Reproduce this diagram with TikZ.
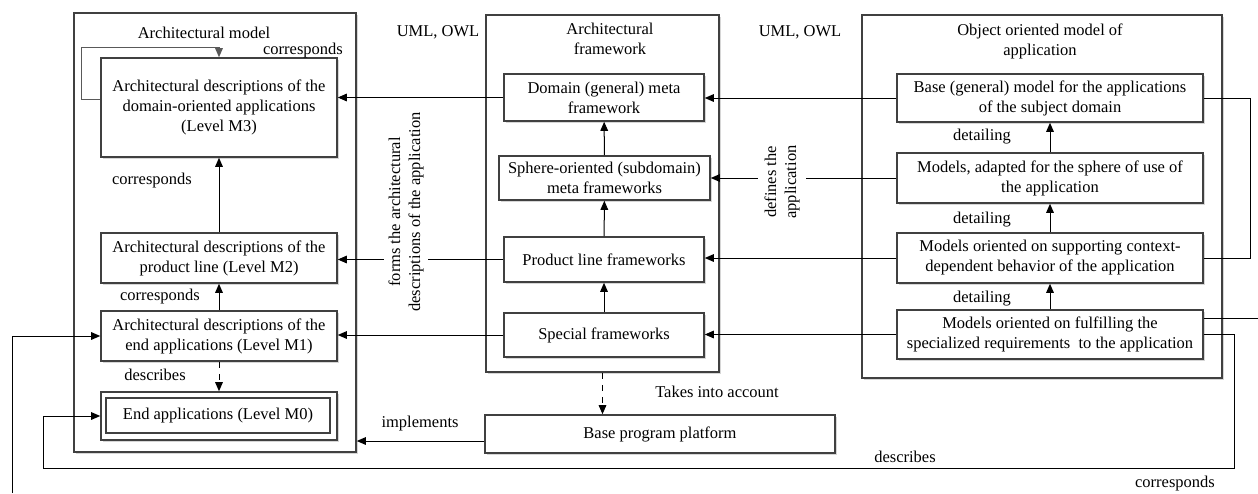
\documentclass[tikz,border=0pt]{standalone}
\usepackage{fontspec}
\setmainfont{Liberation Serif}
\usetikzlibrary{arrows.meta,shadows}

\tikzset{
  boxsize/.style 2 args={minimum width=#1*0.5pt, minimum height=#2*0.5pt},
  box/.style={draw=black!75, line width=0.8pt, fill=white, align=center, inner sep=0pt,
    drop shadow={shadow xshift=1pt, shadow yshift=-1pt, fill=black!20, opacity=0.8}},
  frame/.style={box},
  lbl/.style={align=center, inner sep=1pt},
  arr/.style={-{Triangle[length=4.5pt,width=3.8pt]}},
  link/.style={line width=0.5pt, black}
}

\begin{document}
\begin{tikzpicture}[x=0.5pt, y=-0.5pt, font=\fontsize{8.25}{10}\selectfont]
  \useasboundingbox (0,0) rectangle (1258,493);

  % Outer frames
  \node[frame, boxsize={282}{439}] (modelL) at (215,232.5) {};
  \node[frame, boxsize={233}{357}] (frameM) at (602.5,193.5) {};
  \node[frame, boxsize={360}{363}] (objR) at (1042,196.5) {};

  % Architectural model
  \node[lbl] (titleL) at (204,33) {Architectural model};
  \node[box, boxsize={236}{99}] (M3) at (219,107.5) {Architectural descriptions of the\\domain-oriented applications\\(Level M3)};
  \node[box, boxsize={236}{50}] (M2) at (219,258) {Architectural descriptions of the\\product line (Level M2)};
  \node[box, boxsize={236}{50}] (M1) at (219,336) {Architectural descriptions of the\\end applications (Level M1)};
  \node[box, boxsize={236}{48}] (M0) at (219,416) {};
  \node[draw=black!75, line width=0.8pt, boxsize={224}{35}, inner sep=0pt] (M0in) at (218,415.5) {End applications (Level M0)};

  % Architectural framework
  \node[lbl] (titleM) at (610,39) {Architectural\\framework};
  \node[box, boxsize={200}{47}] (domain) at (604,97.5) {Domain (general) meta\\framework};
  \node[box, boxsize={211}{44}] (sphere) at (604.5,178) {Sphere-oriented (subdomain)\\meta frameworks};
  \node[box, boxsize={200}{45}] (product) at (604,259.5) {Product line frameworks};
  \node[box, boxsize={200}{44}] (special) at (604,335) {Special frameworks};
  \node[box, boxsize={350}{38}] (platform) at (660,434) {Base program platform};

  % Object oriented model
  \node[lbl] (titleR) at (1040,41) {Object oriented model of\\application};
  \node[box, boxsize={306}{48}] (base) at (1050,98) {Base (general) model for the applications\\of the subject domain};
  \node[box, boxsize={306}{50}] (adapted) at (1050,178) {Models, adapted for the sphere of use of\\the application};
  \node[box, boxsize={306}{50}] (context) at (1050,258) {Models oriented on supporting context-\\dependent behavior of the application};
  \node[box, boxsize={306}{49}] (fulfil) at (1050,334.5) {Models oriented on fulfilling the\\specialized requirements\ \ to the application};

  % Vertical links
  \draw[link, arr] (M2) -- (M3);
  \draw[link, arr] (M1) -- (M2);
  \draw[link, arr, dashed] (M1) -- (M0);
  \draw[link, arr] (sphere) -- (domain);
  \draw[link, arr] (product) -- (sphere);
  \draw[link, arr] (special) -- (product);
  \draw[link, arr] (adapted) -- (base);
  \draw[link, arr] (context) -- (adapted);
  \draw[link, arr] (fulfil) -- (context);
  \draw[link, arr, dashed] (frameM.south) -- (frameM.south |- platform.north);
  \draw[link, arr, black!65] ([yshift=4pt]M3.west) -| (81,47) -| (M3.north);

  % Horizontal links
  \coordinate (implFrom) at ([yshift=-3.5pt]platform.west);
  \draw[link, arr] (domain.west) -- (M3.east |- domain.west);
  \draw[link, arr] (product.west) -- (M2.east |- product.west);
  \draw[link, arr] (special.west) -- (M1.east |- special.west);
  \draw[link, arr] (base.west) -- (domain.east |- base.west);
  \draw[link, arr] (adapted.west) -- (sphere.east);
  \draw[link, arr] (context.west) -- (product.east |- context.west);
  \draw[link, arr] (fulfil.west) -- (special.east |- fulfil.west);
  \draw[link, arr] (implFrom) -- (modelL.east |- implFrom);

  % Outer links
  \coordinate (corrOut) at (1258,318);
  \coordinate (corrIn) at (12,493);
  \draw[link] (base.east) -| (1250,258) -- (context.east);
  \draw[link] ([yshift=8.25pt]fulfil.east) -- (corrOut);
  \draw[link, arr] (corrIn) |- (M1.west);
  \draw[link, arr] (fulfil.east) -| (1234,468) -| (43,416) -- (M0.west);

  % Labels
  \node[lbl] (corrTop) at (303,51) {corresponds};
  \node[lbl] (corr32) at (152,181) {corresponds};
  \node[lbl] (corr21) at (160,297) {corresponds};
  \node[lbl] (descr10) at (155,375) {describes};
  \node[lbl] (umlL) at (438,32) {UML, OWL};
  \node[lbl] (umlR) at (800,32) {UML, OWL};
  \node[lbl] (det1) at (982,137) {detailing};
  \node[lbl] (det2) at (982,220) {detailing};
  \node[lbl] (det3) at (982,299) {detailing};
  \node[lbl] (takes) at (717,392) {Takes into account};
  \node[lbl] (impl) at (420,424) {implements};
  \node[lbl] (descrB) at (905,457) {describes};
  \node[lbl] (corrB) at (1175,484) {corresponds};
  \node[lbl, fill=white, rotate=90, inner sep=2pt] (forms) at (406,212) {forms the architectural\\descriptions of the application};
  \node[lbl, fill=white, rotate=90, inner sep=3pt] (defines) at (782,182) {defines the\\application};
\end{tikzpicture}
\end{document}
